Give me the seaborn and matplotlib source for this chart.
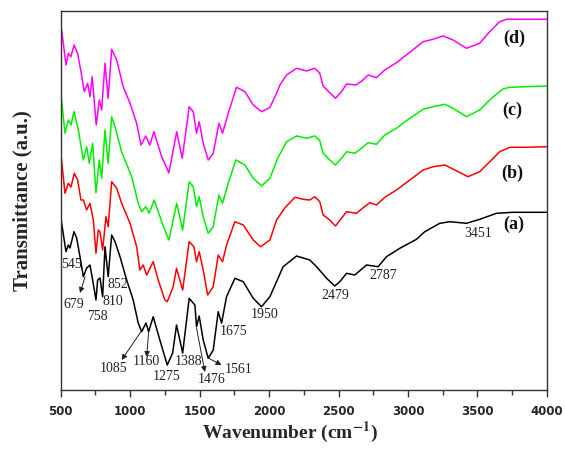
import numpy as np
import pandas as pd
import matplotlib
matplotlib.use("Agg")
import matplotlib.pyplot as plt
import seaborn as sns

# ---- data (y in arbitrary transmittance units) ----
wn_a = [500, 538, 555, 567, 596, 615, 639, 663, 687, 711, 730, 754, 766, 783, 802, 819, 842, 867,
        891, 927, 975, 1022, 1058, 1083, 1114, 1133, 1166, 1214, 1267, 1306, 1334, 1378, 1425,
        1466, 1478, 1497, 1526, 1562, 1598, 1634, 1658, 1694, 1754, 1814, 1886, 1946, 2006, 2101,
        2198, 2293, 2342, 2414, 2473, 2509, 2558, 2617, 2701, 2785, 2845, 2941, 3061, 3121, 3229,
        3301, 3421, 3517, 3637, 3756, 3900, 4000]
t_a = [173.3, 138.3, 145, 142, 158.3, 152, 133.3, 113.3, 122, 125, 110, 90, 110, 112, 93.3, 143.3,
       113.3, 155, 148.3, 133.3, 110, 90, 67, 58.3, 67, 58.3, 73.3, 50, 25, 37, 65, 37, 91.7,
       85, 63.3, 74, 50, 31.7, 40, 78.3, 67, 93.3, 111.7, 108.3, 91.7, 83.3, 93.3, 123.3,
       134, 130, 123.3, 111.7, 104, 108.3, 116.7, 115, 125, 123.3, 133.3, 141.7, 150.7, 158.3,
       166.7, 168.3, 166.7, 170.7, 176.7, 177.7, 177.7, 177.7]

wn_b = [500, 531, 555, 574, 598, 622, 646, 663, 687, 711, 735, 754, 771, 783, 802, 826, 842, 867,
        903, 939, 999, 1047, 1070, 1094, 1119, 1166, 1202, 1250, 1267, 1310, 1334, 1378, 1425,
        1459, 1478, 1497, 1526, 1558, 1598, 1634, 1665, 1694, 1754, 1814, 1886, 1939, 2006, 2054,
        2113, 2186, 2245, 2293, 2329, 2365, 2389, 2437, 2478, 2521, 2558, 2629, 2675, 2725, 2773,
        2833, 2917, 3013, 3109, 3181, 3265, 3337, 3432, 3516, 3601, 3660, 3732, 3852, 4000]
t_b = [238.3, 196.7, 206.7, 203, 216.7, 210, 190, 190, 180, 186.7, 170, 136.7, 160, 158, 140,
       173.3, 163.3, 208.3, 201.7, 186.7, 166.7, 143.3, 120, 125, 115, 128.3, 110, 90, 88.3,
       103.3, 121.7, 100, 148.3, 143.3, 128.3, 138.3, 120, 95, 103.3, 135, 128.3, 145, 168.3,
       165, 150, 143.3, 150, 170, 182, 192.7, 190.7, 190, 193.3, 188.3, 175, 170, 164, 171.7,
       178.3, 176.7, 182, 187.3, 185, 192.7, 200, 210, 220, 223.3, 225, 220, 213.3, 218.3, 230,
       238.3, 242.7, 242.7, 243.3]

wn_c = [500, 531, 555, 574, 596, 627, 663, 687, 706, 730, 754, 778, 795, 819, 842, 867, 891, 939,
        1011, 1058, 1083, 1112, 1137, 1173, 1227, 1279, 1335, 1378, 1425, 1454, 1478, 1497, 1526,
        1562, 1598, 1639, 1665, 1706, 1761, 1826, 1886, 1946, 2006, 2063, 2126, 2198, 2270, 2329,
        2365, 2389, 2437, 2478, 2521, 2558, 2617, 2668, 2713, 2773, 2833, 2917, 3013, 3109, 3181,
        3265, 3324, 3421, 3516, 3601, 3684, 3732, 4000]
t_c = [298.3, 256.7, 270, 265, 278.3, 260, 230, 243.3, 226.7, 246.7, 197.3, 230, 211.7, 260,
       226.7, 273.3, 263.3, 238, 213.3, 186.7, 178.3, 183.3, 176.7, 190, 168.3, 150, 186.7, 160,
       208.3, 203.3, 183.3, 193.3, 173.3, 156.7, 163.3, 195, 186.7, 206.7, 230, 225, 211.7, 204,
       211.7, 232, 248.3, 254, 251.7, 254, 249.3, 236.7, 230, 225, 231.7, 238.3, 236.7, 242,
       247.3, 245.7, 255, 261.7, 271.7, 280.7, 283.3, 285.7, 281.7, 273.3, 280, 291.7, 301,
       302.7, 304]

wn_d = [500, 519, 538, 555, 574, 596, 622, 646, 670, 694, 711, 727, 756, 778, 795, 819, 842, 867,
        903, 950, 999, 1047, 1078, 1112, 1142, 1171, 1227, 1279, 1335, 1375, 1425, 1454, 1478,
        1497, 1526, 1562, 1598, 1639, 1665, 1706, 1766, 1826, 1886, 1946, 2006, 2054, 2078, 2126,
        2198, 2270, 2329, 2365, 2389, 2437, 2478, 2521, 2558, 2624, 2668, 2713, 2773, 2833, 2917,
        3013, 3109, 3181, 3253, 3324, 3421, 3516, 3588, 3660, 3708, 4000]
t_d = [366.7, 346.7, 325, 336.7, 333.3, 345, 336.7, 318.3, 298.3, 306.7, 293.3, 313.3, 265, 290,
       280, 326.7, 291.7, 340.7, 330, 303.3, 286.7, 266.7, 245, 254, 245, 258.3, 233.3, 217,
       258.3, 231.7, 283.3, 278.3, 256.7, 268.3, 246.7, 230, 236.7, 266.7, 256.7, 276.7, 302.7,
       298.3, 285, 278.3, 282.5, 296.7, 305, 315, 321.7, 319, 321.7, 316.7, 304, 297.3, 291.7,
       298.3, 306, 305, 309, 315, 312.3, 320, 327.3, 337.7, 348.3, 350.7, 354, 350, 341.7,
       346.7, 358.3, 368.3, 370.7, 370.7]

samples = ["(a)", "(b)", "(c)", "(d)"]
colors = ["#000000", "#ff0000", "#00ee00", "#ff00ff"]

peak_labels = ["545", "679", "758", "810", "852", "1085", "1160", "1275", "1388",
               "1476", "1561", "1675", "1950", "2479", "2787", "3451"]

# ---- build long table ----
frames = []
for name, wx, ty in zip(samples, [wn_a, wn_b, wn_c, wn_d], [t_a, t_b, t_c, t_d]):
    frames.append(pd.DataFrame({"wn": wx, "T": ty, "sample": name}))
df = pd.concat(frames, ignore_index=True)

sns.set_style("white")
plt.rcParams["font.family"] = ["Liberation Serif", "DejaVu Serif"]
plt.rcParams["mathtext.fontset"] = "stix"

fig = plt.figure(figsize=(5.65, 4.5), dpi=100)
ax = fig.add_axes([0.1074, 0.1333, 0.8606, 0.8423])

sns.lineplot(data=df, x="wn", y="T", hue="sample", palette=dict(zip(samples, colors)),
             sort=False, estimator=None, lw=1.1, legend=False, ax=ax)

ax.set_xlim(500, 4000)
ax.set_ylim(0, 379)
ax.set_yticks([])
ax.set_xticks(np.arange(500, 4001, 500))
ax.set_xticks(np.arange(500, 4001, 250), minor=True)
ax.tick_params(axis="x", which="major", direction="out", length=5, width=1, color="#333333",
               bottom=True, pad=6)
ax.tick_params(axis="x", which="minor", direction="out", length=3.5, width=1, color="#333333",
               bottom=True)
for lab in ax.get_xticklabels():
    lab.set_fontfamily("DejaVu Sans")
    lab.set_fontweight("bold")
    lab.set_fontsize(8.5)
for s in ax.spines.values():
    s.set_visible(True)
    s.set_color("#333333")
    s.set_linewidth(1.0)

ax.set_xlabel("Wavenumber (cm$^{\\mathbf{-1}}$)", fontsize=14, fontweight="bold")
ax.xaxis.set_label_coords(0.472, -0.078)
ax.set_ylabel("Transmittance (a.u.)", fontsize=15, fontweight="bold")
ax.yaxis.set_label_coords(-0.058, 0.5)

# peak labels on curve (a): label, text position, optional arrow tail
ann = {
    "545": ((500, 126), None, "left"),
    "679": ((596, 86), (675, 113), "center"),
    "758": ((768, 74), None, "center"),
    "810": ((876, 89), None, "center"),
    "852": ((912, 106), None, "center"),
    "1085": ((883, 22), (1076, 58), "center"),
    "1160": ((1114, 29), (1133, 58), "center"),
    "1275": ((1265, 14), None, "center"),
    "1388": ((1423, 29), None, "center"),
    "1476": ((1589, 11), (1478, 62), "center"),
    "1561": ((1783, 21), (1562, 32), "center"),
    "1675": ((1747, 59), None, "center"),
    "1950": ((1969, 76), None, "center"),
    "2479": ((2480, 95), None, "center"),
    "2787": ((2818, 115), None, "center"),
    "3451": ((3502, 157), None, "center"),
}
heads = {"679": (639, 97), "1085": (939, 30), "1160": (1119, 33),
         "1476": (1538, 18), "1561": (1658, 25)}
for lab in peak_labels:
    (tx, ty), tail, ha = ann[lab]
    ax.text(tx, ty, lab, fontsize=10, ha=ha, va="center", color="#222222", clip_on=False)
    if tail is not None:
        ax.annotate("", xy=heads[lab], xytext=tail,
                    arrowprops=dict(arrowstyle="-|>", lw=0.7, color="#222222",
                                    mutation_scale=8, shrinkA=0, shrinkB=0))

label_pos = {"(a)": (3761, 166), "(b)": (3754, 217), "(c)": (3754, 280), "(d)": (3768, 352)}
for name in samples:
    x, y = label_pos[name]
    ax.text(x, y, name, fontsize=13, fontweight="bold", ha="center", va="center", color="#111111")

fig.savefig("out.png", dpi=100)
